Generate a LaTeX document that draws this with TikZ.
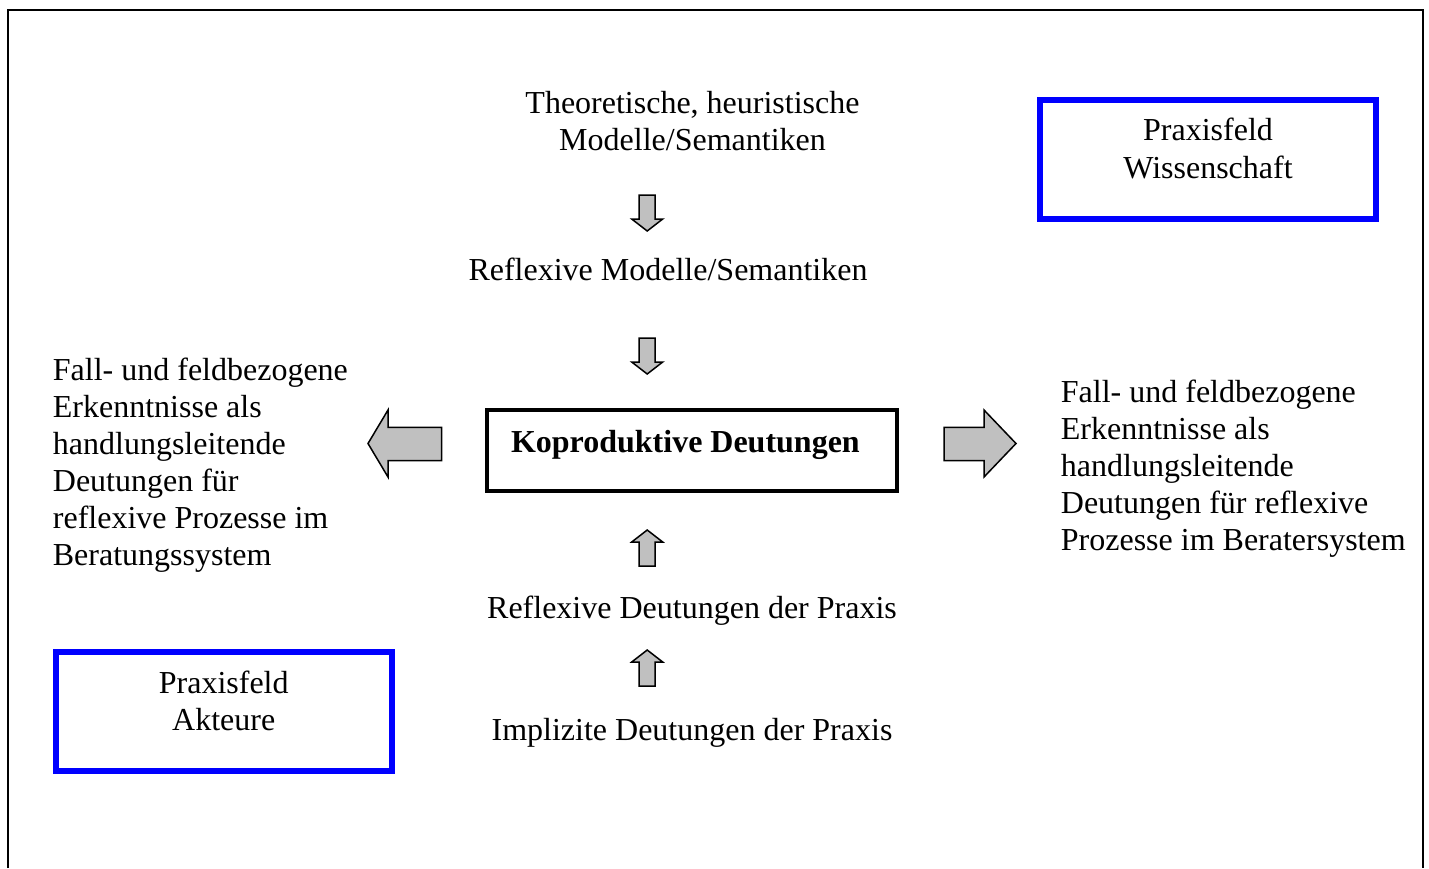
\documentclass[tikz,border=0pt]{standalone}
\usepackage{fontspec}
\setmainfont{Liberation Serif}
\definecolor{arrowgray}{RGB}{192,192,192}
\begin{document}
\begin{tikzpicture}[x=0.5pt,y=-0.5pt,
  txt/.style={inner sep=0pt, font=\fontsize{16}{18.5}\selectfont},
  bluebox/.style={draw=blue, line width=3pt, inner sep=0pt, font=\fontsize{16}{18.75}\selectfont},
  kopbox/.style={draw=black, line width=2pt, inner sep=0pt, font=\fontsize{16}{18.5}\selectfont\bfseries},
  blockarrow/.style={draw=black, fill=arrowgray, line width=0.75pt, line join=miter},
  frame/.style={draw=black, line width=1pt, line join=miter},
  vblock/.pic={\draw[blockarrow] (-8,-18) -- (8,-18) -- (8,6) -- (15.5,6) -- (0,18) -- (-15.5,6) -- (-8,6) -- cycle;}]
\useasboundingbox (0,0) rectangle (1429,868);
% outer frame (bottom edge lies outside the picture)
\draw[frame] (8,868) -- (8,10) -- (1422.5,10) -- (1422.5,868);

% centre column texts
\node[txt, anchor=base] (theo) at (692.5,113)
  {\begin{tabular}[t]{@{}c@{}}Theoretische, heuristische\\Modelle/Semantiken\end{tabular}};
\node[txt, anchor=base] (refmod) at (668,280) {Reflexive Modelle/Semantiken};
\node[kopbox] (kop) at (692,450.5)
  {\parbox[c][40.5pt][t]{205pt}{\vspace*{8.5pt}\strut\hspace*{12pt}Koproduktive Deutungen}};
\node[txt, anchor=base] (refdeut) at (692,618) {Reflexive Deutungen der Praxis};
\node[txt, anchor=base] (impl) at (692,740) {Implizite Deutungen der Praxis};

% side texts
\node[txt, anchor=base west] (lefttext) at (52.5,380)
  {\begin{tabular}[t]{@{}l@{}}Fall- und feldbezogene\\Erkenntnisse als\\handlungsleitende\\Deutungen für\\reflexive Prozesse im\\Beratungssystem\end{tabular}};
\node[txt, anchor=base west] (righttext) at (1060.5,402)
  {\begin{tabular}[t]{@{}l@{}}Fall- und feldbezogene\\Erkenntnisse als\\handlungsleitende\\Deutungen für reflexive\\Prozesse im Beratersystem\end{tabular}};

% blue boxes
\node[bluebox] (wiss) at (1208,159.25)
  {\parbox[c][59.25pt][t]{168pt}{\centering\vspace*{7.2pt}\strut Praxisfeld\\Wissenschaft}};
\node[bluebox] (akt) at (223.75,711.5)
  {\parbox[c][59.5pt][t]{167.75pt}{\centering\vspace*{7.5pt}\strut Praxisfeld\\Akteure}};

% vertical block arrows
\pic at (647.2,213) {vblock};
\pic at (647.2,356) {vblock};
\pic[rotate=180] at (647.2,548) {vblock};
\pic[rotate=180] at (647.2,668) {vblock};

% horizontal block arrows
\draw[blockarrow] (441.5,427.3) -- (388,427.3) -- (388,410) -- (368,443.5) -- (388,477) -- (388,460.7) -- (441.5,460.7) -- cycle;
\draw[blockarrow] (944,427.3) -- (984,427.3) -- (984,410) -- (1016,443.5) -- (984,477) -- (984,460.7) -- (944,460.7) -- cycle;
\end{tikzpicture}
\end{document}
